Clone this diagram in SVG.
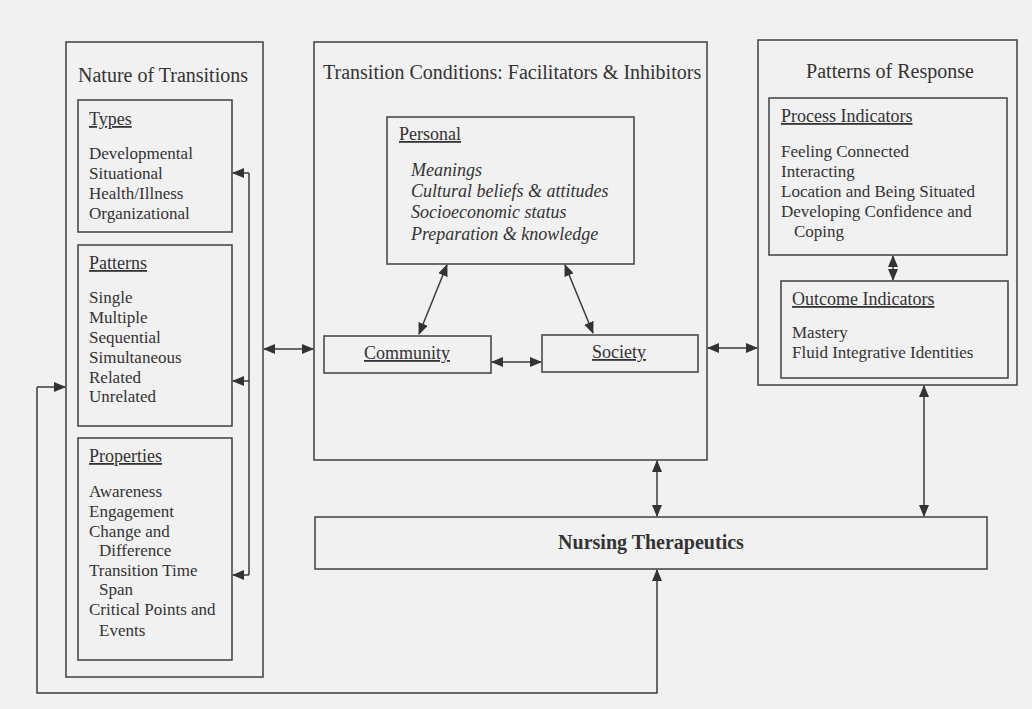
<svg xmlns="http://www.w3.org/2000/svg" width="1032" height="709" viewBox="0 0 1032 709">
<defs>
<style>
.box{fill:none;stroke:#4a4a4a;stroke-width:1.6}
.t{font-family:"Liberation Serif","Times New Roman",serif;fill:#333}
.title{font-size:20px}
.head{font-size:18px;text-decoration:underline}
.body{font-size:17px}
.it{font-size:18px;font-style:italic}
.bold{font-size:20px;font-weight:bold}
.c{fill:none;stroke:#3a3a3a;stroke-width:1.5}
</style>
<marker id="ah" viewBox="0 0 12 10" refX="11" refY="5" markerWidth="12" markerHeight="10" markerUnits="userSpaceOnUse" orient="auto-start-reverse">
<path d="M0,0 L12,5 L0,10 z" fill="#333"/>
</marker>
</defs>
<rect width="1032" height="709" fill="#f1f1f1"/>

<g id="nature">
<rect class="box" x="66" y="42" width="197" height="635"/>
<text class="t title" x="78" y="82">Nature of Transitions</text>
</g>
<g id="types">
<rect class="box" x="78" y="100" width="154" height="132"/>
<text class="t head" x="89" y="125">Types</text>
<text class="t body" x="89" y="159">Developmental</text>
<text class="t body" x="89" y="179">Situational</text>
<text class="t body" x="89" y="199">Health/Illness</text>
<text class="t body" x="89" y="219">Organizational</text>
</g>
<g id="patterns">
<rect class="box" x="78" y="245" width="154" height="181"/>
<text class="t head" x="89" y="269">Patterns</text>
<text class="t body" x="89" y="303">Single</text>
<text class="t body" x="89" y="323">Multiple</text>
<text class="t body" x="89" y="343">Sequential</text>
<text class="t body" x="89" y="363">Simultaneous</text>
<text class="t body" x="89" y="383">Related</text>
<text class="t body" x="89" y="402">Unrelated</text>
</g>
<g id="properties">
<rect class="box" x="78" y="438" width="154" height="222"/>
<text class="t head" x="89" y="462">Properties</text>
<text class="t body" x="89" y="497">Awareness</text>
<text class="t body" x="89" y="517">Engagement</text>
<text class="t body" x="89" y="537">Change and</text>
<text class="t body" x="99" y="556">Difference</text>
<text class="t body" x="89" y="576">Transition Time</text>
<text class="t body" x="99" y="595">Span</text>
<text class="t body" x="89" y="615">Critical Points and</text>
<text class="t body" x="99" y="636">Events</text>
</g>

<g id="conditions">
<rect class="box" x="314" y="42" width="393" height="418"/>
<text class="t title" x="323" y="79">Transition Conditions: Facilitators &amp; Inhibitors</text>
</g>
<g id="personal">
<rect class="box" x="387" y="117" width="247" height="147"/>
<text class="t head" x="399" y="140">Personal</text>
<text class="t it" x="411" y="176">Meanings</text>
<text class="t it" x="411" y="197">Cultural beliefs &amp; attitudes</text>
<text class="t it" x="411" y="218">Socioeconomic status</text>
<text class="t it" x="411" y="240">Preparation &amp; knowledge</text>
</g>
<g id="community">
<rect class="box" x="324" y="336" width="167" height="37"/>
<text class="t head" x="407" y="359" text-anchor="middle">Community</text>
</g>
<g id="society">
<rect class="box" x="542" y="335" width="156" height="37"/>
<text class="t head" x="619" y="358" text-anchor="middle">Society</text>
</g>

<g id="response">
<rect class="box" x="758" y="40" width="259" height="345"/>
<text class="t title" x="890" y="78" text-anchor="middle">Patterns of Response</text>
</g>
<g id="process">
<rect class="box" x="769" y="98" width="238" height="157"/>
<text class="t head" x="781" y="122">Process Indicators</text>
<text class="t body" x="781" y="157">Feeling Connected</text>
<text class="t body" x="781" y="177">Interacting</text>
<text class="t body" x="781" y="197">Location and Being Situated</text>
<text class="t body" x="781" y="217">Developing Confidence and</text>
<text class="t body" x="794" y="237">Coping</text>
</g>
<g id="outcome">
<rect class="box" x="781" y="281" width="227" height="97"/>
<text class="t head" x="792" y="305">Outcome Indicators</text>
<text class="t body" x="792" y="338">Mastery</text>
<text class="t body" x="792" y="358">Fluid Integrative Identities</text>
</g>

<g id="nursing">
<rect class="box" x="315" y="517" width="672" height="52"/>
<text class="t bold" x="651" y="549" text-anchor="middle">Nursing Therapeutics</text>
</g>

<g id="connectors">
<path class="c" d="M249,575 V173" />
<path class="c" d="M249,173 H233" marker-end="url(#ah)"/>
<path class="c" d="M249,381 H233" marker-end="url(#ah)"/>
<path class="c" d="M249,575 H233" marker-end="url(#ah)"/>
<path class="c" d="M264,349 H313" marker-start="url(#ah)" marker-end="url(#ah)"/>
<path class="c" d="M708,348 H757" marker-start="url(#ah)" marker-end="url(#ah)"/>
<path class="c" d="M447,265 L419,334" marker-start="url(#ah)" marker-end="url(#ah)"/>
<path class="c" d="M565,265 L593,333" marker-start="url(#ah)" marker-end="url(#ah)"/>
<path class="c" d="M492,362 H541" marker-start="url(#ah)" marker-end="url(#ah)"/>
<path class="c" d="M893,256 V280" marker-start="url(#ah)" marker-end="url(#ah)"/>
<path class="c" d="M924,386 V516" marker-start="url(#ah)" marker-end="url(#ah)"/>
<path class="c" d="M657,461 V516" marker-start="url(#ah)" marker-end="url(#ah)"/>
<path class="c" d="M37,387 H65" marker-end="url(#ah)"/>
<path class="c" d="M37,387 V693 H657 V570" marker-end="url(#ah)"/>
</g>
</svg>
